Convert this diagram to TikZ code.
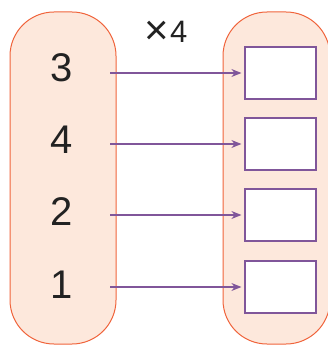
\documentclass[tikz,border=0pt]{standalone}
\usepackage{fontspec}
\setmainfont{Liberation Sans}
\usetikzlibrary{arrows.meta}
\definecolor{capborder}{HTML}{F0643C}
\definecolor{capfill}{HTML}{FDE8DC}
\definecolor{arrowpurple}{HTML}{80569A}
\definecolor{inkdark}{HTML}{222222}
\tikzset{
  capsule/.style={draw=capborder, fill=capfill, line width=1pt, rounded corners=44pt},
  slotbox/.style={draw=arrowpurple, fill=white, line width=1.2pt, minimum width=71pt, minimum height=52pt, inner sep=0pt},
  numlabel/.style={font=\fontsize{40}{40}\selectfont, text=inkdark, inner sep=0pt},
  mapto/.style={draw=arrowpurple, line width=1.3pt, -{Stealth[length=10pt,width=8pt]}}
}
\begin{document}
\begin{tikzpicture}[x=1pt,y=-1pt]
\useasboundingbox (0,0) rectangle (328,345);
\draw[capsule] (10,12) rectangle (116,344);
\draw[capsule] (223,12) rectangle (330,344);
\node[numlabel] (n3) at (62,68) {3};
\node[numlabel] (n4) at (62,140) {4};
\node[numlabel] (n2) at (62,212) {2};
\node[numlabel] (n1) at (62,285) {1};
\node[text=inkdark, inner sep=0pt, font=\fontsize{31}{31}\selectfont, anchor=base west] (four) at (170,42.5) {4};
\node[text=inkdark, inner sep=0pt, font=\fontsize{42}{42}\selectfont] (times) at (156.5,33) {×};
\node[slotbox] (b1) at (280.5,73) {};
\node[slotbox] (b2) at (280.5,144) {};
\node[slotbox] (b3) at (280.5,215) {};
\node[slotbox] (b4) at (280.5,287) {};
\coordinate (s1) at (110,73);
\coordinate (s2) at (110,144);
\coordinate (s3) at (110,215);
\coordinate (s4) at (110,287);
\draw[mapto] (s1) -- ([xshift=-3pt]b1.west);
\draw[mapto] (s2) -- ([xshift=-3pt]b2.west);
\draw[mapto] (s3) -- ([xshift=-3pt]b3.west);
\draw[mapto] (s4) -- ([xshift=-3pt]b4.west);
\end{tikzpicture}
\end{document}
